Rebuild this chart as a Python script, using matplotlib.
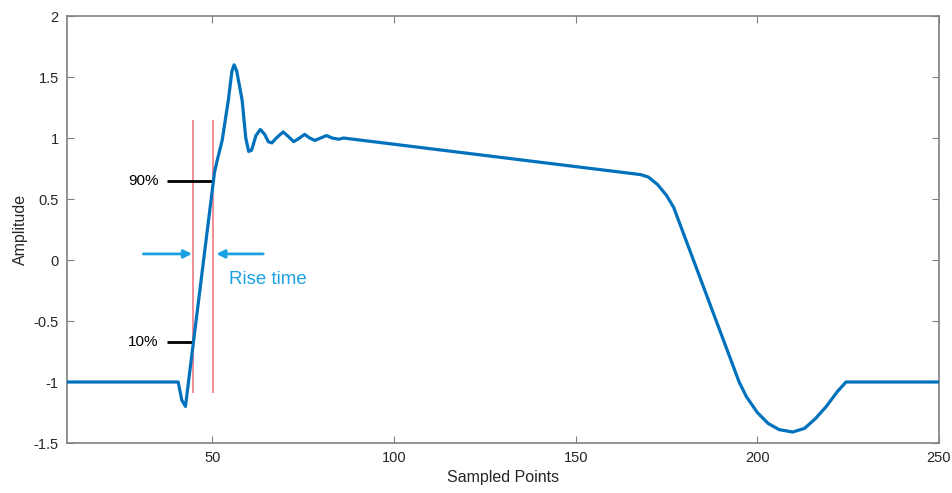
import numpy as np
import matplotlib
matplotlib.use("Agg")
import matplotlib.pyplot as plt

plt.rcParams['font.family'] = ['Liberation Sans', 'DejaVu Sans']

# pulse (sampled point, amplitude)
pts_x = [10, 40.6, 41.6, 42.6, 50.6, 51.2, 52.7, 54.4, 55.4, 56.0, 56.7, 58.2,
         59.2, 60.0, 60.8, 62.0, 63.2, 64.4, 65.4, 66.4, 67.6, 69.5, 71.0,
         72.4, 74.0, 75.4, 76.8, 78.2, 79.8, 81.4, 83.0, 84.8, 86.1,
         167.9, 170, 172.5, 175, 177, 195, 197, 200, 203, 206, 209.7,
         213, 216, 219, 222, 224.4, 250]
pts_y = [-1.0, -1.0, -1.15, -1.2, 0.72, 0.8, 0.98, 1.31, 1.55, 1.6, 1.55, 1.31,
         1.0, 0.89, 0.9, 1.02, 1.07, 1.03, 0.97, 0.96, 1.0, 1.05, 1.01,
         0.97, 1.0, 1.03, 1.0, 0.98, 1.0, 1.02, 1.0, 0.99, 1.0,
         0.70, 0.68, 0.62, 0.53, 0.43, -1.0, -1.12, -1.25, -1.34, -1.39, -1.41,
         -1.38, -1.3, -1.2, -1.08, -1.0, -1.0]

# rise time annotation
t10 = 44.8   # 10% crossing
t90 = 50.3   # 90% crossing
lvl10 = -0.67
lvl90 = 0.65
x_ticks = [50, 100, 150, 200, 250]
y_ticks = [-1.5, -1, -0.5, 0, 0.5, 1, 1.5, 2]

fig = plt.figure(figsize=(9.52, 4.93), dpi=100)
ax = fig.add_axes([0.0704, 0.1014, 0.9159, 0.8661])

ax.plot(pts_x, pts_y, color='#0072BD', lw=2.3, solid_joinstyle='round', zorder=3)

red = '#F0838F'
ax.vlines([t10, t90], -1.09, 1.15, color=red, lw=1.3, zorder=2)

ax.hlines(lvl90, 37.6, t90, color='black', lw=2)
ax.hlines(lvl10, 37.6, t10, color='black', lw=2)
ax.text(35.2, lvl90, '90%', ha='right', va='center', fontsize=11)
ax.text(35.2, lvl10, '10%', ha='right', va='center', fontsize=11)

arrow_c = '#1BA1E2'
ax.annotate('', xy=(t10 - 0.4, 0.05), xytext=(31.0, 0.05),
            arrowprops=dict(arrowstyle='-|>', color=arrow_c, lw=2,
                            mutation_scale=12, shrinkA=0, shrinkB=0))
ax.annotate('', xy=(t90 + 0.8, 0.05), xytext=(64.0, 0.05),
            arrowprops=dict(arrowstyle='-|>', color=arrow_c, lw=2,
                            mutation_scale=12, shrinkA=0, shrinkB=0))
ax.text(54.6, -0.16, 'Rise time', color=arrow_c, fontsize=13.5,
        ha='left', va='center')

ax.set_xlim(10, 250)
ax.set_ylim(-1.5, 2)
ax.set_xticks(x_ticks)
ax.set_yticks(y_ticks)
ax.set_yticklabels(['-1.5', '-1', '-0.5', '0', '0.5', '1', '1.5', '2'])
ax.tick_params(direction='in', top=True, right=True, length=5, width=0.8,
               color='#808080', labelcolor='#262626', labelsize=10.5, pad=6)
for s in ax.spines.values():
    s.set_color('#808080')
    s.set_linewidth(1.2)

ax.set_xlabel('Sampled Points', fontsize=11.5, color='#262626', labelpad=3)
ax.set_ylabel('Amplitude', fontsize=11.5, color='#262626', labelpad=4)

fig.savefig('out.png', dpi=100)
